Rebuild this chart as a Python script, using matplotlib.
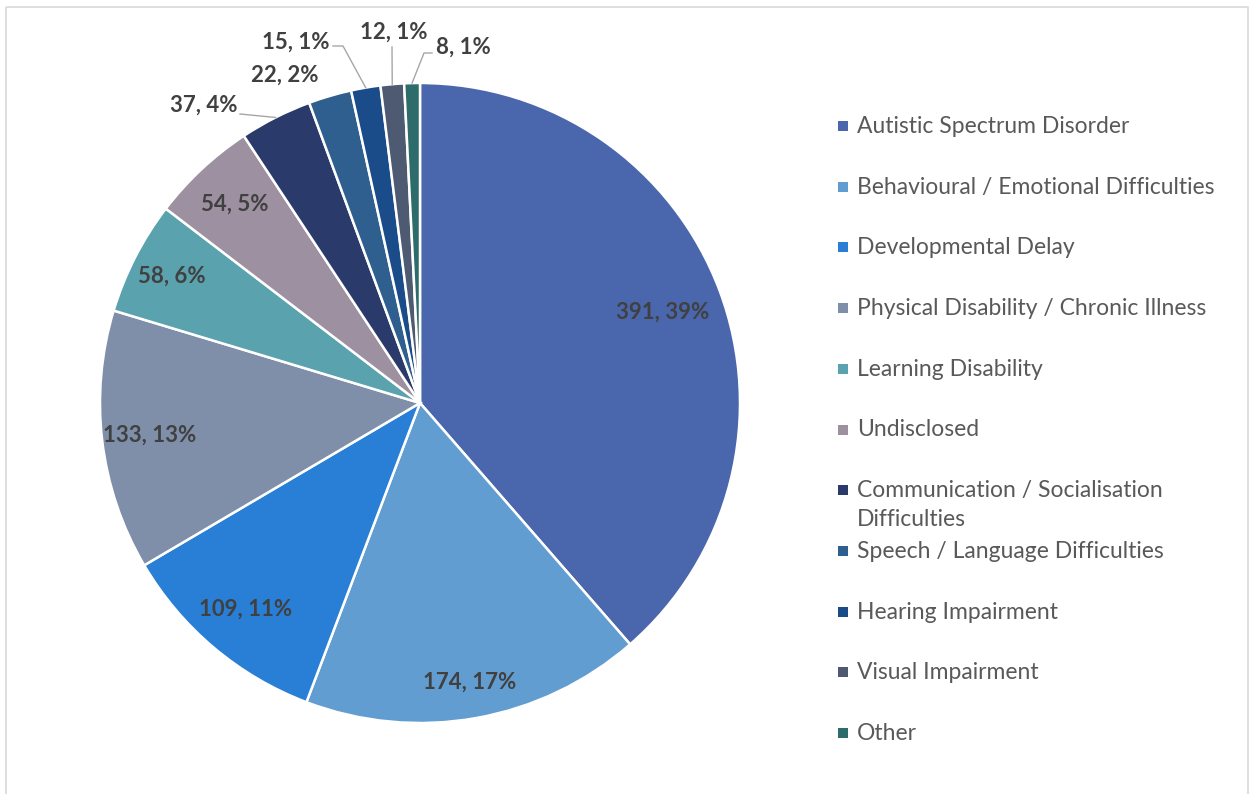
import numpy as np
import matplotlib
matplotlib.use("Agg")
import matplotlib.pyplot as plt
from matplotlib.patches import Rectangle

plt.rcParams['font.family'] = ['Lato', 'DejaVu Sans']

categories = [
    "Autistic Spectrum Disorder",
    "Behavioural / Emotional Difficulties",
    "Developmental Delay",
    "Physical Disability / Chronic Illness",
    "Learning Disability",
    "Undisclosed",
    "Communication / Socialisation\nDifficulties",
    "Speech / Language Difficulties",
    "Hearing Impairment",
    "Visual Impairment",
    "Other",
]
counts = [391, 174, 109, 133, 58, 54, 37, 22, 15, 12, 8]
colors = ["#4A66AC", "#629DD1", "#297FD5", "#7F8FA9", "#5AA2AE", "#9D90A0",
          "#2A3A6B", "#2E5F8E", "#1B4C8A", "#4D5A72", "#2E6B6B"]

W, H = 1250, 794
fig = plt.figure(figsize=(W / 100, H / 100), dpi=100)

# pie axes: centre at px (420, 403), radius 320 px
R = 320
cx, cy = 420, 403
ax = fig.add_axes([20 / W, (H - 793) / H, 800 / W, 780 / H])

wedges, _ = ax.pie(counts, colors=colors, startangle=90, counterclock=False,
                   radius=1.0, center=(0, 0),
                   wedgeprops=dict(edgecolor='white', linewidth=1.8))
ax.set_xlim(-400 / R, 400 / R)
ax.set_ylim(-390 / R, 390 / R)
ax.set_aspect('auto')
ax.axis('off')

total = sum(counts)
labels = ["%d, %d%%" % (c, round(100 * c / total)) for c in counts]

# inside labels (first six)
inside_r = [0.81, 0.885, 0.845, 0.85, 0.87, 0.85]
for i, w in enumerate(wedges[:6]):
    mid = np.deg2rad((w.theta1 + w.theta2) / 2)
    ax.text(inside_r[i] * np.cos(mid), inside_r[i] * np.sin(mid), labels[i],
            ha='center', va='center', fontsize=16, fontweight='bold',
            color='#404040')

# outside labels with leader lines (pixel positions of text centres)
out_text = {6: (204, 105), 7: (285, 75), 8: (296, 42), 9: (394, 32), 10: (463, 47)}
leaders = {6: [(240, 114)], 8: [(333, 46), (343, 46)], 9: [(392, 47)],
           10: [(432, 53), (424, 53)]}


def to_data(p):
    return ((p[0] - cx) / R, (cy - p[1]) / R)


for i, pos in out_text.items():
    tx, ty = to_data(pos)
    ax.text(tx, ty, labels[i], ha='center', va='center', fontsize=16,
            fontweight='bold', color='#404040')
    if i in leaders:
        w = wedges[i]
        mid = np.deg2rad((w.theta1 + w.theta2) / 2)
        pts = [to_data(p) for p in leaders[i]] + [(np.cos(mid), np.sin(mid))]
        xs, ys = zip(*pts)
        ax.plot(xs, ys, color='#A6A6A6', linewidth=1.0, clip_on=False)

# overlay axes in pixel coordinates for legend and border
ov = fig.add_axes([0, 0, 1, 1], facecolor='none')
ov.set_xlim(0, W)
ov.set_ylim(H, 0)
ov.axis('off')
ov.add_patch(Rectangle((5.5, 6.5), 1242, 800, fill=False,
                       edgecolor='#D9D9D9', linewidth=1.2, clip_on=False))

row0, step = 126, 60.7
for i, name in enumerate(categories):
    y = row0 + i * step
    ov.add_patch(Rectangle((838, y - 5), 10, 10, facecolor=colors[i],
                           edgecolor='none'))
    ov.text(857, y - 10, name, ha='left', va='top', fontsize=16.5,
            color='#595959', linespacing=1.45)

fig.savefig("out.png", dpi=100)
